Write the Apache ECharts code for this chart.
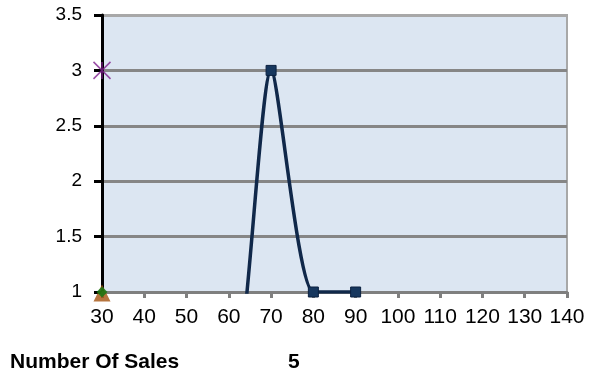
<!DOCTYPE html>
<html><head><meta charset="utf-8">
<script src="https://cdn.jsdelivr.net/npm/echarts@6/dist/echarts.min.js"></script>
<style>html,body{margin:0;padding:0;background:#fff}#c{width:589px;height:377px}</style>
</head><body><div id="c"></div>
<script>
// Data
const salesX = [50, 60, 70, 80, 90];
const salesCount = [0, 0, 3, 1, 1];
const starX = [30], starY = [3];
const diamondX = [30], diamondY = [1];
const triangleX = [30], triangleY = [1];
const xTickValues = [30, 40, 50, 60, 70, 80, 90, 100, 110, 120, 130, 140];
const yTickValues = [1, 1.5, 2, 2.5, 3, 3.5];
const footerLabel = 'Number Of Sales';
const footerValue = '5';

const pair = (xs, ys) => xs.map((x, i) => [x, ys[i]]);
const FONT = '"Liberation Sans", Arial, sans-serif';

const chart = echarts.init(document.getElementById('c'), null, {renderer: 'canvas'});
chart.setOption({
  animation: false,
  backgroundColor: '#ffffff',
  title: [
    {text: footerLabel, left: 10, top: 352, padding: 0, textStyle: {fontFamily: FONT, fontSize: 21, fontWeight: 'bold', color: '#000'}},
    {text: footerValue, left: 288, top: 352, padding: 0, textStyle: {fontFamily: FONT, fontSize: 21, fontWeight: 'bold', color: '#000'}}
  ],
  grid: {left: 102, right: 22, top: 15, bottom: 85, show: true, backgroundColor: '#dce6f2', borderColor: '#a8a8a8', borderWidth: 2},
  xAxis: {
    type: 'value', min: xTickValues[0], max: xTickValues[xTickValues.length - 1], interval: xTickValues[1] - xTickValues[0],
    axisLine: {show: true, onZero: false, lineStyle: {color: '#7f7f7f', width: 3}},
    axisTick: {show: true, inside: false, length: 6, lineStyle: {color: '#7f7f7f', width: 3}},
    axisLabel: {color: '#000', fontFamily: FONT, fontSize: 21, margin: 15},
    splitLine: {show: false}
  },
  yAxis: {
    type: 'value', min: yTickValues[0], max: yTickValues[yTickValues.length - 1], interval: yTickValues[1] - yTickValues[0],
    axisLine: {show: true, onZero: false, lineStyle: {color: '#000', width: 3}},
    axisTick: {show: true, inside: false, length: 8, lineStyle: {color: '#000', width: 3}},
    axisLabel: {color: '#000', fontFamily: FONT, fontSize: 19, margin: 20},
    splitLine: {show: true, lineStyle: {color: ['#7f7f7f', '#868686', '#868686', '#868686', '#868686', '#a8a8a8'], width: 3}}
  },
  series: [
    {
      type: 'line', data: pair(salesX, salesCount), smooth: 0.22, clip: true,
      symbol: 'rect', symbolSize: 10, showAllSymbol: true,
      lineStyle: {color: '#10284a', width: 3.5},
      itemStyle: {color: '#17375e', borderColor: '#0b2140', borderWidth: 1},
      z: 3
    },
    {
      type: 'scatter', data: pair(triangleX, triangleY), symbol: 'triangle', symbolSize: 17, symbolOffset: [0, 1], clip: false,
      itemStyle: {color: '#a4530f'}, z: 5
    },
    {
      type: 'scatter', data: pair(diamondX, diamondY), symbol: 'diamond', symbolSize: 11, clip: false,
      itemStyle: {color: '#0e7a12'}, z: 6
    },
    {
      type: 'scatter', data: pair(starX, starY), symbol: 'path://M0,0L10,10M10,0L0,10M5,0L5,10', symbolSize: 17, clip: false,
      itemStyle: {color: 'rgba(0,0,0,0)', borderColor: '#7f1f8f', borderWidth: 1.5}, z: 6
    }
  ]
});
</script></body></html>
